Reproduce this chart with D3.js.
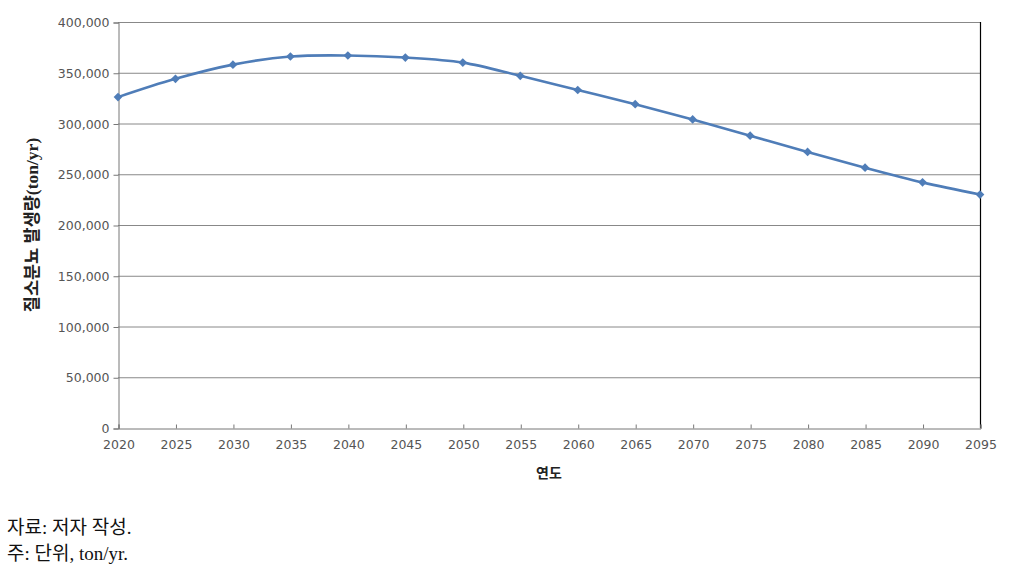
<!DOCTYPE html>
<html><head><meta charset="utf-8">
<script src="https://cdn.jsdelivr.net/npm/d3@7"></script>
<style>body{margin:0;background:#fff}</style>
</head><body>
<svg id="c" width="1010" height="572"></svg>
<script>
const years = [2020,2025,2030,2035,2040,2045,2050,2055,2060,2065,2070,2075,2080,2085,2090,2095];
const values = [326000,344000,358000,366000,367000,365000,360000,347000,333000,319000,304000,288000,272000,256500,242000,230000];
const yTicks = [0,50000,100000,150000,200000,250000,300000,350000,400000];
const yTitle = "질소분뇨 발생량(ton/yr)";
const xTitle = "연도";
const notes = ["자료: 저자 작성.", "주: 단위, ton/yr."];

const svg = d3.select("#c");
const L=118,R=980,T=22,B=428;
const x = d3.scaleLinear().domain([2020,2095]).range([L,R]);
const y = d3.scaleLinear().domain([0,400000]).range([B,T]);
const fmt = d3.format(",");
const tickFont = "'DejaVu Sans', sans-serif";

// grid
svg.append("g").selectAll("line").data(yTicks.filter(d=>d>0)).join("line")
  .attr("x1",L).attr("x2",R).attr("y1",d=>y(d)+0.5).attr("y2",d=>y(d)+0.5)
  .attr("stroke","#888").attr("stroke-width",1);
// right border
svg.append("line").attr("x1",R+0.5).attr("x2",R+0.5).attr("y1",T).attr("y2",B).attr("stroke","#000").attr("stroke-width",1.2);

// y axis
const ya = svg.append("g").attr("transform",`translate(${L+0.5},0.5)`)
  .call(d3.axisLeft(y).tickValues(yTicks).tickFormat(fmt).tickSize(5).tickPadding(4));
ya.select(".domain").attr("stroke","#777");
ya.selectAll(".tick line").attr("stroke","#777");
ya.selectAll("text").attr("font-family",tickFont).attr("font-size",12.5).attr("fill","#555");

// x axis
const xa = svg.append("g").attr("transform",`translate(0.5,${B+0.5})`)
  .call(d3.axisBottom(x).tickValues(years).tickFormat(d3.format("d")).tickSize(-4).tickPadding(12));
xa.select(".domain").attr("stroke","#777");
xa.selectAll(".tick line").attr("stroke","#777");
xa.selectAll("text").attr("font-family",tickFont).attr("font-size",12.5).attr("fill","#555");

// line
const data = years.map((yr,i)=>({yr,v:values[i]}));
svg.append("path").datum(data)
  .attr("d",d3.line().x(d=>x(d.yr)).y(d=>y(d.v)).curve(d3.curveCatmullRom.alpha(0.5)))
  .attr("fill","none").attr("stroke","#4f7db8").attr("stroke-width",2.6);
svg.append("g").selectAll("path").data(data).join("path")
  .attr("transform",d=>`translate(${x(d.yr)},${y(d.v)}) rotate(45)`)
  .attr("d",d3.symbol(d3.symbolSquare,38))
  .attr("fill","#4f7db8");

// titles
svg.append("text").attr("transform","translate(38,225) rotate(-90)")
  .attr("text-anchor","middle").attr("font-family","'Liberation Serif','Noto Sans CJK KR',serif")
  .attr("font-weight","bold").attr("font-size",17.5).attr("fill","#222").text(yTitle);
svg.append("text").attr("x",549).attr("y",478).attr("text-anchor","middle")
  .attr("font-family","'Noto Sans CJK KR',sans-serif").attr("font-weight","bold")
  .attr("font-size",14).attr("fill","#222").text(xTitle);

svg.append("g").selectAll("text").data(notes).join("text")
  .attr("x",7).attr("y",(d,i)=>534+i*26)
  .attr("font-family","'Liberation Serif','Noto Sans CJK KR',serif")
  .attr("font-size",19).attr("fill","#111").text(d=>d);
</script>
</body></html>
